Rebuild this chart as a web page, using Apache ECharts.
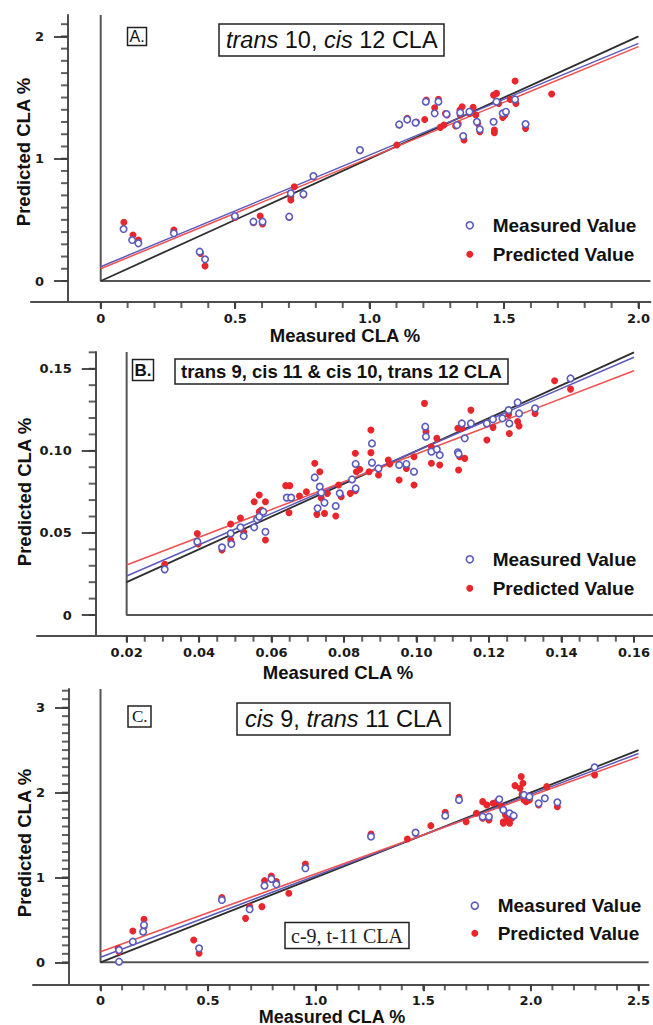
<!DOCTYPE html>
<html><head><meta charset="utf-8">
<script src="https://cdn.jsdelivr.net/npm/echarts@6/dist/echarts.min.js"></script>
<style>html,body{margin:0;padding:0;background:#fff}#c{width:653px;height:1025px}</style>
</head><body><div id="c"></div>
<script>
// ---------- Panel A: trans 10, cis 12 CLA ----------
const aPredicted = [[0.086,0.480],[0.120,0.376],[0.140,0.335],[0.272,0.417],[0.371,0.226],[0.388,0.123],[0.499,0.520],[0.568,0.477],[0.593,0.531],[0.602,0.466],[0.701,0.520],[0.707,0.689],[0.707,0.662],[0.720,0.771],[0.754,0.703],[0.791,0.853],[0.964,1.065],[1.101,1.112],[1.110,1.275],[1.140,1.330],[1.174,1.300],[1.205,1.320],[1.211,1.480],[1.242,1.417],[1.256,1.485],[1.263,1.256],[1.282,1.370],[1.288,1.357],[1.276,1.275],[1.320,1.267],[1.330,1.283],[1.336,1.398],[1.344,1.425],[1.337,1.357],[1.351,1.153],[1.371,1.370],[1.385,1.420],[1.395,1.357],[1.402,1.289],[1.410,1.221],[1.461,1.520],[1.464,1.213],[1.464,1.234],[1.472,1.534],[1.480,1.452],[1.495,1.338],[1.503,1.357],[1.523,1.485],[1.541,1.635],[1.544,1.452],[1.580,1.248],[1.677,1.529]];
const aMeasured = [[0.085,0.425],[0.117,0.335],[0.140,0.308],[0.272,0.390],[0.368,0.240],[0.388,0.177],[0.499,0.531],[0.568,0.485],[0.602,0.485],[0.701,0.526],[0.707,0.717],[0.754,0.711],[0.791,0.858],[0.964,1.071],[1.110,1.280],[1.140,1.320],[1.171,1.294],[1.209,1.466],[1.242,1.371],[1.256,1.466],[1.286,1.365],[1.325,1.275],[1.337,1.376],[1.348,1.185],[1.371,1.384],[1.399,1.302],[1.410,1.240],[1.461,1.302],[1.472,1.466],[1.495,1.371],[1.507,1.384],[1.541,1.485],[1.580,1.283]];
const aLineIdentity = [[0,0],[2,2]];
const aLineMeasured = [[0,0.117],[2,1.943]];
const aLinePredicted = [[0,0.100],[2,1.916]];
const aXTicks = [0,0.5,1,1.5,2];
const aYTicks = [0,1,2];

// ---------- Panel B: trans 9, cis 11 & cis 10, trans 12 CLA ----------
const bPredicted = [[0.0305,0.0309],[0.0395,0.0497],[0.0397,0.0432],[0.0463,0.0396],[0.0487,0.0554],[0.0487,0.0457],[0.0489,0.0441],[0.0514,0.0591],[0.0523,0.0505],[0.0552,0.0690],[0.0566,0.0731],[0.0566,0.0629],[0.0572,0.0639],[0.0583,0.0690],[0.0583,0.0457],[0.0639,0.0788],[0.0650,0.0788],[0.0648,0.0623],[0.0677,0.0725],[0.0696,0.0751],[0.0719,0.0924],[0.0725,0.0613],[0.0733,0.0873],[0.0737,0.0713],[0.0746,0.0619],[0.0754,0.0741],[0.0777,0.0603],[0.0785,0.0792],[0.0792,0.0721],[0.0817,0.0741],[0.0831,0.0985],[0.0831,0.0757],[0.0834,0.0873],[0.0843,0.0887],[0.0869,0.0873],[0.0874,0.1127],[0.0874,0.0989],[0.0895,0.0853],[0.0922,0.0944],[0.0926,0.0920],[0.0952,0.0822],[0.0972,0.0893],[0.0993,0.0792],[0.0993,0.0964],[0.1022,0.1289],[0.1026,0.1117],[0.1041,0.1025],[0.1041,0.0924],[0.1056,0.1076],[0.1064,0.0914],[0.1114,0.1137],[0.1116,0.0883],[0.1119,0.0964],[0.1133,0.0954],[0.1125,0.1137],[0.1150,0.1248],[0.1194,0.1066],[0.1211,0.1143],[0.1237,0.1198],[0.1254,0.1222],[0.1256,0.1106],[0.1279,0.1178],[0.1283,0.1151],[0.1327,0.1228],[0.1381,0.1427],[0.1425,0.1376]];
const bMeasured = [[0.0305,0.0278],[0.0395,0.0447],[0.0463,0.0412],[0.0487,0.0497],[0.0489,0.0432],[0.0514,0.0534],[0.0523,0.0481],[0.0552,0.0534],[0.0560,0.0583],[0.0566,0.0599],[0.0577,0.0629],[0.0583,0.0507],[0.0642,0.0715],[0.0654,0.0715],[0.0719,0.0838],[0.0727,0.0650],[0.0733,0.0782],[0.0737,0.0745],[0.0746,0.0684],[0.0777,0.0664],[0.0788,0.0741],[0.0822,0.0826],[0.0832,0.0920],[0.0832,0.0771],[0.0877,0.1045],[0.0877,0.0928],[0.0895,0.0893],[0.0952,0.0914],[0.0972,0.0920],[0.0993,0.0873],[0.1024,0.1147],[0.1026,0.1086],[0.1041,0.0995],[0.1056,0.1009],[0.1064,0.0974],[0.1114,0.0991],[0.1116,0.0981],[0.1125,0.1167],[0.1133,0.1076],[0.1150,0.1167],[0.1194,0.1167],[0.1211,0.1192],[0.1237,0.1198],[0.1254,0.1248],[0.1256,0.1167],[0.1279,0.1295],[0.1283,0.1228],[0.1327,0.1259],[0.1425,0.1441]];
const bLineIdentity = [[0.02,0.02],[0.16,0.16]];
const bLineMeasured = [[0.02,0.0238],[0.16,0.157]];
const bLinePredicted = [[0.02,0.0305],[0.16,0.1488]];
const bXTicks = [0.02,0.04,0.06,0.08,0.10,0.12,0.14,0.16];
const bYTicks = [0,0.05,0.10,0.15];

// ---------- Panel C: cis 9, trans 11 CLA ----------
const cPredicted = [[0.082,0.165],[0.086,0.126],[0.150,0.369],[0.202,0.507],[0.202,0.420],[0.433,0.263],[0.458,0.106],[0.564,0.762],[0.674,0.518],[0.693,0.656],[0.750,0.656],[0.762,0.962],[0.794,1.017],[0.817,0.951],[0.875,0.813],[0.952,1.159],[1.257,1.512],[1.426,1.453],[1.464,1.520],[1.535,1.610],[1.602,1.767],[1.666,1.944],[1.699,1.657],[1.747,1.756],[1.776,1.893],[1.776,1.697],[1.795,1.853],[1.805,1.677],[1.824,1.873],[1.843,1.893],[1.853,1.913],[1.863,1.834],[1.872,1.657],[1.872,1.638],[1.882,1.736],[1.891,1.677],[1.901,1.638],[1.911,1.697],[1.926,2.082],[1.949,2.050],[1.955,2.188],[1.959,1.980],[1.963,2.109],[1.968,1.913],[1.978,1.893],[1.993,1.913],[2.036,1.853],[2.074,2.070],[2.123,1.834],[2.296,2.207]];
const cMeasured = [[0.086,0.008],[0.086,0.145],[0.150,0.243],[0.198,0.361],[0.202,0.440],[0.458,0.165],[0.564,0.734],[0.693,0.625],[0.762,0.903],[0.794,0.982],[0.817,0.919],[0.952,1.108],[1.257,1.481],[1.464,1.528],[1.602,1.728],[1.666,1.913],[1.776,1.716],[1.805,1.716],[1.853,1.921],[1.872,1.795],[1.901,1.756],[1.920,1.728],[1.968,1.972],[1.993,1.952],[2.036,1.873],[2.065,1.932],[2.123,1.885],[2.296,2.298]];
const cLineIdentity = [[0,0],[2.5,2.5]];
const cLineMeasured = [[0,0.059],[2.5,2.46]];
const cLinePredicted = [[0,0.125],[2.5,2.42]];
const cXTicks = [0,0.5,1,1.5,2,2.5];
const cYTicks = [0,1,2,3];

// ---------- styling / layout ----------
const AX = '#4d4d4d';
const BLUE = '#5b5bbd';
const RED = '#e8262b';
const TICKFONT = {fontFamily:'DejaVu Sans', fontWeight:'bold', fontSize:13, color:'#1a1a1a'};

function steps(from, to, step){ const out=[]; const n=Math.round((to-from)/step); for(let i=0;i<=n;i++) out.push(+(from+i*step).toFixed(6)); return out; }
function fmt(dec){ return v => (Math.abs(v)<1e-9 ? '0' : v.toFixed(dec)); }

const panels = [
  {grid:{left:31,top:15,width:622,height:287}, xMin:-0.2593,xMax:2.0444,yMin:-0.1717,yMax:2.175, yAxisX:68,
   xMajor:aXTicks, xMinor:steps(0,2,0.1), yMajor:aYTicks, yMinor:steps(0,2.1,0.1), xDec:1, yDec:0,
   origin:[0,0], meas:aMeasured, pred:aPredicted, lines:[aLineIdentity,aLineMeasured,aLinePredicted]},
  {grid:{left:37,top:352,width:616,height:283.7}, xMin:-0.00474,xMax:0.1652,yMin:-0.0126,yMax:0.1602, yAxisX:95.7,
   xMajor:bXTicks, xMinor:steps(0.02,0.16,0.005), yMajor:bYTicks, yMinor:steps(0,0.16,0.01), xDec:2, yDec:2,
   origin:[0.02,0], meas:bMeasured, pred:bPredicted, lines:[bLineIdentity,bLineMeasured,bLinePredicted]},
  {grid:{left:33,top:689,width:620,height:295.3}, xMin:-0.3138,xMax:2.547,yMin:-0.259,yMax:3.22, yAxisX:69,
   xMajor:cXTicks, xMinor:steps(0,2.5,0.1), yMajor:cYTicks, yMinor:steps(0,3.2,0.1), xDec:1, yDec:0,
   origin:[0,0], meas:cMeasured, pred:cPredicted, lines:[cLineIdentity,cLineMeasured,cLinePredicted]}
];

const grid=[], xAxis=[], yAxis=[], series=[], legend=[];
panels.forEach((p,gi)=>{
  grid.push(Object.assign({containLabel:false}, p.grid));
  const g = p.grid;
  const xi = xAxis.length, yi = yAxis.length;
  const dx = p.yAxisX - g.left;
  xAxis.push({type:'value', gridIndex:gi, min:p.xMin, max:p.xMax, position:'bottom',
    axisLine:{show:true,onZero:false,lineStyle:{color:AX,width:2}},
    axisTick:{show:true,customValues:p.xMajor,length:7,inside:false,lineStyle:{color:AX,width:2}},
    axisLabel:Object.assign({show:true,customValues:p.xMajor,formatter:fmt(p.xDec),margin:10,hideOverlap:false},TICKFONT),
    splitLine:{show:false}, minorTick:{show:false}});
  yAxis.push({type:'value', gridIndex:gi, min:p.yMin, max:p.yMax, position:'left', offset:-dx,
    axisLine:{show:true,onZero:false,lineStyle:{color:AX,width:2}},
    axisTick:{show:true,customValues:p.yMajor,length:14,inside:false,lineStyle:{color:AX,width:2}},
    axisLabel:Object.assign({show:true,customValues:p.yMajor,formatter:fmt(p.yDec),margin:24,hideOverlap:false},TICKFONT),
    splitLine:{show:false}});
  const base = {xAxisIndex:xi, yAxisIndex:yi, animation:false};
  // inner frame through the origin
  series.push(Object.assign({type:'line', name:'frame'+gi, silent:true, data:[[p.origin[0],p.yMax],[p.origin[0],p.origin[1]],[p.xMax,p.origin[1]]],
    symbol:'none', lineStyle:{color:'#555',width:2}, z:1}, base));
  // minor ticks: small bars on the axis lines, placed through the axis scales
  series.push(Object.assign({type:'scatter', name:'minorX'+gi,
    data:p.xMinor.map(v=>[v,p.yMin]), symbol:'rect', symbolSize:[2,6], symbolOffset:[0,3],
    itemStyle:{color:'#3a3a3a'}}, base));
  series.push(Object.assign({type:'scatter', name:'minorY'+gi,
    data:p.yMinor.map(v=>[p.xMin,v]), symbol:'rect', symbolSize:[7,2], symbolOffset:[dx-3.5,0],
    itemStyle:{color:'#3a3a3a'}}, base));
  const lc = ['#2e2e2e', BLUE, '#f05050'];
  p.lines.forEach((d,k)=>{
    series.push(Object.assign({type:'line', name:'fit'+gi+'_'+k, silent:true, data:d, symbol:'none',
      lineStyle:{color:lc[k], width: k===0?1.8:1.5}, z:2}, base));
  });
  series.push(Object.assign({type:'scatter', name:'Predicted Value', data:p.pred, symbol:'circle', symbolSize:7,
    itemStyle:{color:RED, opacity:1}, z:3}, base));
  series.push(Object.assign({type:'scatter', name:'Measured Value', data:p.meas, symbol:'circle', symbolSize:6.5,
    itemStyle:{color:'#ffffff', opacity:1, borderColor:BLUE, borderWidth:1.6}, z:4}, base));
});

const legendPos = [{left:465.5, top:215.8, gap:10},{left:465.5, top:549.8, gap:10},{left:470.5, top:896.2, gap:8.6}];
legendPos.forEach(l=>{
  legend.push({orient:'vertical', left:l.left, top:l.top, itemGap:l.gap, itemWidth:35.8, itemHeight:7, padding:0,
    symbolKeepAspect:true, selectedMode:false,
    data:[{name:'Measured Value', itemStyle:{color:'#ffffff',borderColor:BLUE,borderWidth:1.6}},
          {name:'Predicted Value', itemStyle:{color:RED,borderWidth:0}}],
    textStyle:{fontFamily:'Liberation Sans', fontWeight:'bold', fontSize:19, color:'#111', padding:[0,0,0,0]}});
});

const boxStyle = {borderColor:'#222', borderWidth:1.5, backgroundColor:'#fff'};
const title = [
  Object.assign({text:'A.', left:127, top:27, padding:[1.5,2.5], textStyle:{fontFamily:'Liberation Sans', fontWeight:'normal', fontSize:16, color:'#111'}}, boxStyle),
  Object.assign({text:'{i|trans} 10, {i|cis} 12 CLA', left:219, top:24, padding:[4,7],
    textStyle:{fontFamily:'Liberation Sans', fontWeight:'normal', fontSize:23.5, color:'#111',
      rich:{i:{fontFamily:'Liberation Sans', fontStyle:'italic', fontWeight:'normal', fontSize:23.5, color:'#111'}}}}, boxStyle),
  Object.assign({text:'B.', left:132, top:359, padding:[2.5,2.5], textStyle:{fontFamily:'Liberation Sans', fontWeight:'bold', fontSize:17, color:'#111'}}, boxStyle),
  Object.assign({text:'trans 9, cis 11 & cis 10, trans 12 CLA', left:175, top:359, padding:[3,6],
    textStyle:{fontFamily:'Liberation Sans', fontWeight:'bold', fontSize:18.5, color:'#111'}}, boxStyle),
  Object.assign({text:'C.', left:128, top:706, padding:[2,4], textStyle:{fontFamily:'Liberation Serif', fontWeight:'normal', fontSize:17, color:'#111'}}, boxStyle),
  Object.assign({text:'{i|cis} 9, {i|trans} 11 CLA', left:236.5, top:703, padding:[4,8.5],
    textStyle:{fontFamily:'Liberation Sans', fontWeight:'normal', fontSize:23.5, color:'#111',
      rich:{i:{fontFamily:'Liberation Sans', fontStyle:'italic', fontWeight:'normal', fontSize:23.5, color:'#111'}}}}, boxStyle),
  Object.assign({text:'c-9, t-11 CLA', left:285, top:922, padding:[3.5,6], textStyle:{fontFamily:'Liberation Serif', fontWeight:'normal', fontSize:20, color:'#222'}}, boxStyle)
];

const nameFont = {fontFamily:'Liberation Sans', fontWeight:'bold', fontSize:18.5, fill:'#111', align:'center', verticalAlign:'middle'};
const graphic = [
  {type:'text', x:23, y:152, rotation:Math.PI/2, style:Object.assign({text:'Predicted CLA %'},nameFont)},
  {type:'text', x:24, y:492, rotation:Math.PI/2, style:Object.assign({text:'Predicted CLA %'},nameFont)},
  {type:'text', x:24, y:843, rotation:Math.PI/2, style:Object.assign({text:'Predicted CLA %'},nameFont)},
  {type:'text', x:345, y:335, style:Object.assign({text:'Measured CLA %'},nameFont)},
  {type:'text', x:338, y:672, style:Object.assign({text:'Measured CLA %'},nameFont)},
  {type:'text', x:332, y:1016.5, style:Object.assign({text:'Measured CLA %'},nameFont,{fontSize:18})}
];

const chart = echarts.init(document.getElementById('c'), null, {renderer:'svg'});
chart.setOption({backgroundColor:'#fff', animation:false, title, legend, grid, xAxis, yAxis, series, graphic});
</script></body></html>
